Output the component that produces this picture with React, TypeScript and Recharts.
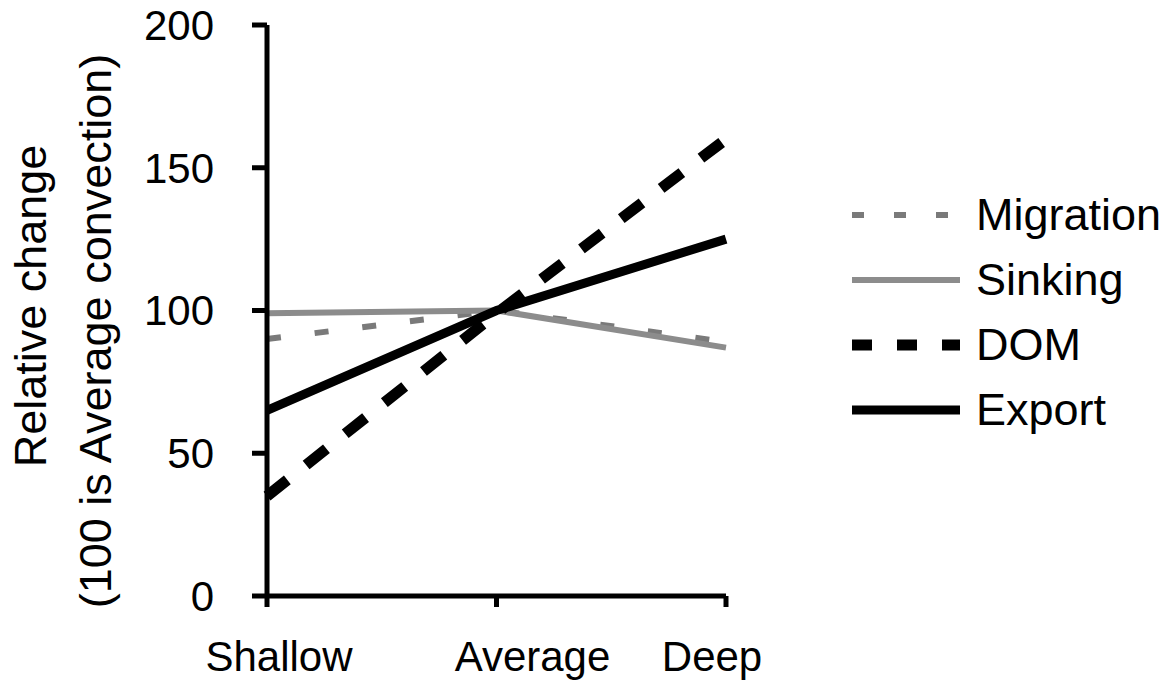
import { LineChart, Line, XAxis, YAxis, Legend, Label } from "recharts";

const depths = ["Shallow", "Average", "Deep"];
const migration = [90, 100, 89];
const sinking = [99, 100, 87];
const dom = [35, 99, 160];
const exportFlux = [65, 100, 125];
const yTicks = [0, 50, 100, 150, 200];

const data = depths.map((depth, i) => ({
  depth,
  Migration: migration[i],
  Sinking: sinking[i],
  DOM: dom[i],
  Export: exportFlux[i],
}));

const series = [
  { key: "Migration", color: "#7a7a7a", width: 6, dash: "14 34", legendDash: "12 30" },
  { key: "Sinking", color: "#8c8c8c", width: 6, dash: undefined, legendDash: undefined },
  { key: "DOM", color: "#000", width: 11, dash: "26 24", legendDash: "20 25" },
  { key: "Export", color: "#000", width: 9, dash: undefined, legendDash: undefined },
];

const FONT = "'Liberation Sans', Arial, Helvetica, sans-serif";

// label shifts so the categories sit where the original puts them
const xShift: Record<string, number> = { Shallow: 12, Average: 36, Deep: -14 };

const XTick = ({ x, y, payload }: any) => (
  <text
    x={x + (xShift[payload.value] ?? 0)}
    y={y + 62}
    textAnchor="middle"
    fontSize={42}
    fontFamily={FONT}
    fill="#000"
  >
    {payload.value}
  </text>
);

const YLabel = () => (
  <g fontFamily={FONT} fontSize={45} fill="#000">
    <text
      x={30}
      y={306}
      transform="rotate(-90 30 306)"
      textAnchor="middle"
      dominantBaseline="central"
    >
      Relative change
    </text>
    <text
      x={95}
      y={331}
      transform="rotate(-90 95 331)"
      textAnchor="middle"
      dominantBaseline="central"
    >
      (100 is Average convection)
    </text>
  </g>
);

const LegendBox = () => (
  <div style={{ fontFamily: FONT, fontSize: 45, color: "#000" }}>
    {series.map((s) => (
      <div key={s.key} style={{ display: "flex", alignItems: "center", height: 65 }}>
        <svg width={110} height={20} style={{ marginRight: 14 }}>
          <line
            x1={0}
            y1={10}
            x2={108}
            y2={10}
            stroke={s.color}
            strokeWidth={s.width}
            strokeDasharray={s.legendDash}
          />
        </svg>
        <span>{s.key}</span>
      </div>
    ))}
  </div>
);

export default function App() {
  return (
    <div style={{ position: "absolute", left: 0, top: 0, background: "#fff" }}>
      <LineChart
        width={1166}
        height={685}
        data={data}
        margin={{ top: 25, right: 440, bottom: 0, left: 0 }}
      >
        <XAxis
          dataKey="depth"
          padding={{ left: 0, right: 0 }}
          tickSize={11}
          tick={<XTick />}
          axisLine={{ stroke: "#000", strokeWidth: 5 }}
          tickLine={{ stroke: "#000", strokeWidth: 5 }}
          height={89}
        />
        <YAxis
          width={267}
          domain={[0, 200]}
          ticks={yTicks}
          tickSize={15}
          tickMargin={38}
          tick={{ fontSize: 42, fill: "#000", fontFamily: FONT }}
          axisLine={{ stroke: "#000", strokeWidth: 5 }}
          tickLine={{ stroke: "#000", strokeWidth: 5 }}
        >
          <Label content={<YLabel />} />
        </YAxis>
        <Legend
          layout="vertical"
          align="center"
          verticalAlign="middle"
          content={<LegendBox />}
          wrapperStyle={{ left: 852, top: 182, width: 310 }}
        />
        {series.map((s) => (
          <Line
            key={s.key}
            dataKey={s.key}
            type="linear"
            stroke={s.color}
            strokeWidth={s.width}
            strokeDasharray={s.dash}
            dot={false}
            activeDot={false}
            isAnimationActive={false}
          />
        ))}
      </LineChart>
    </div>
  );
}
